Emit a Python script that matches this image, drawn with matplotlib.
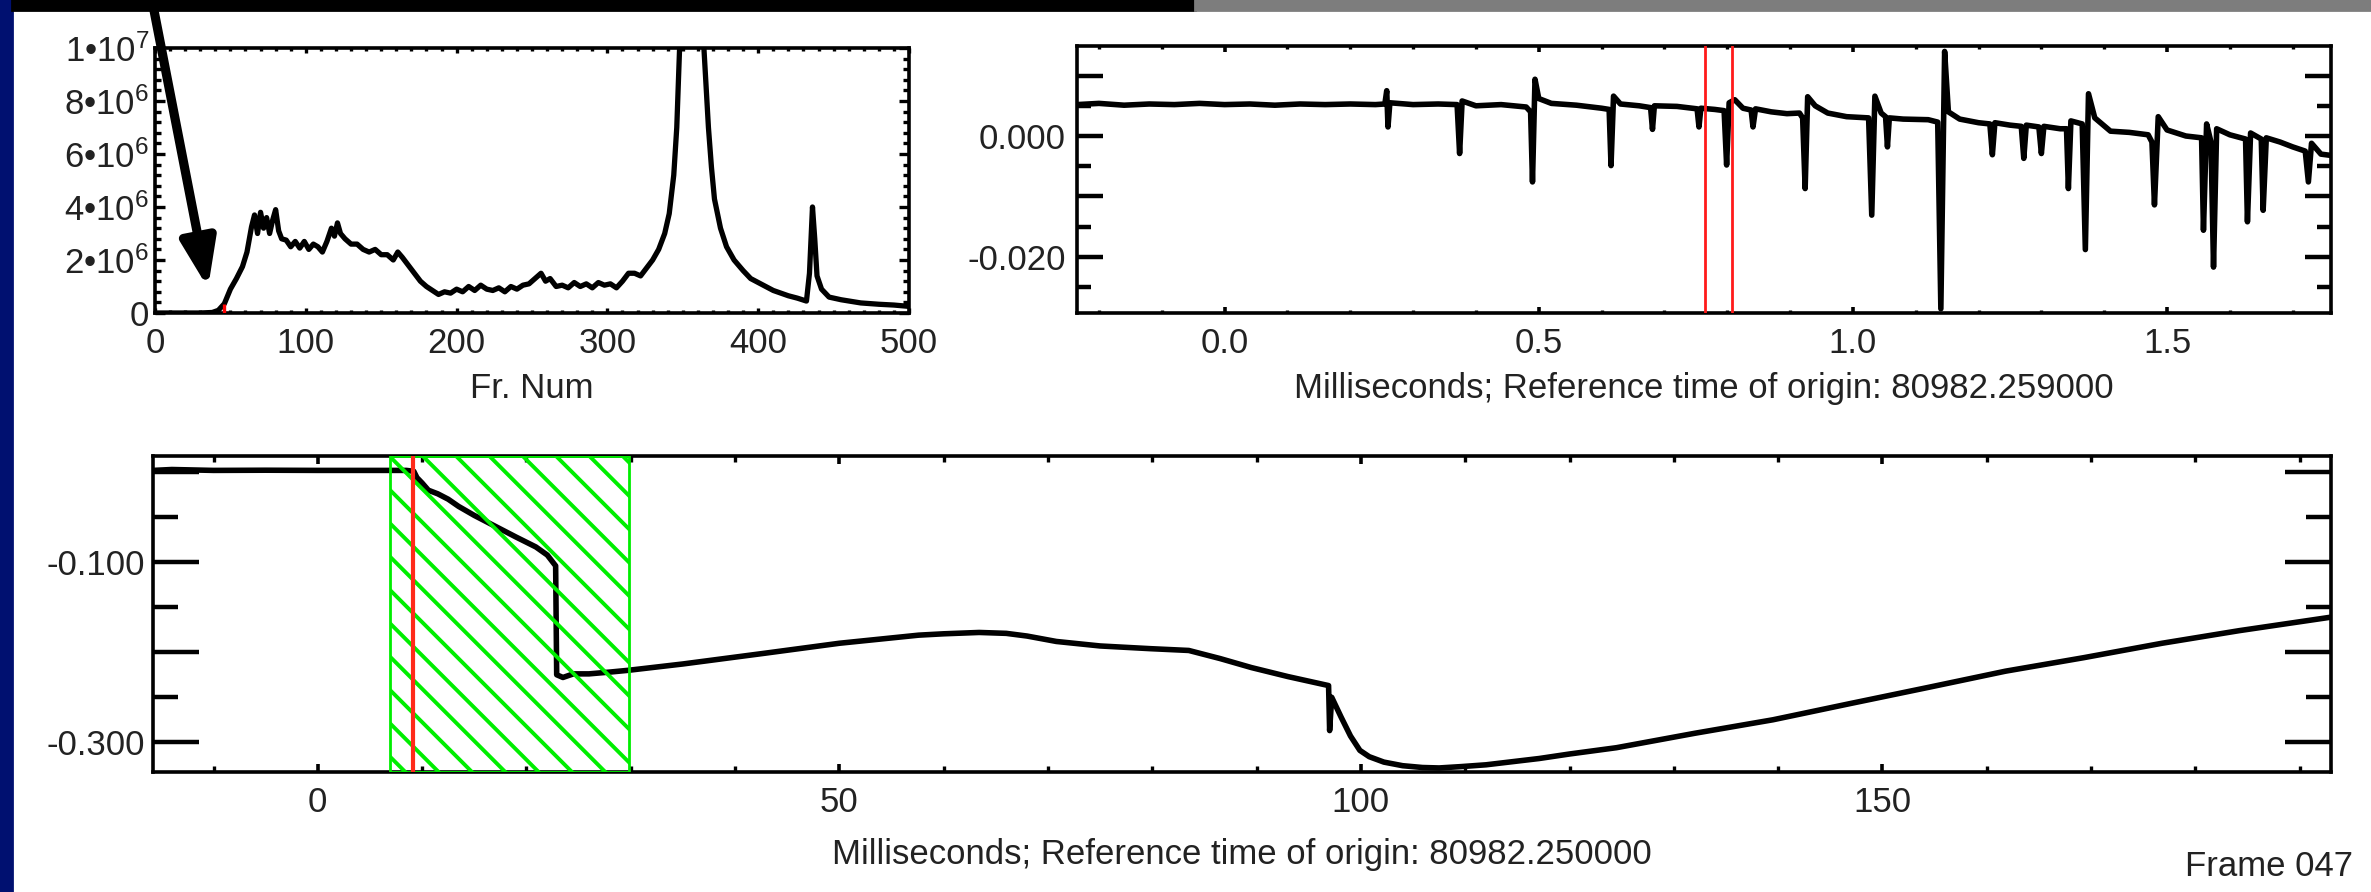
import numpy as np
import matplotlib
matplotlib.use("Agg")
import matplotlib.pyplot as plt
from matplotlib.patches import Rectangle
from matplotlib.ticker import FixedLocator, FixedFormatter, MultipleLocator

# ---- data ------------------------------------------------------------------
# top-left: counts vs frame number (counts in units of 1e6)
frame_num = [0, 10, 20, 30, 38, 42, 46, 50, 54, 58, 61, 64, 66, 68, 70, 72, 74,
             76, 78, 80, 82, 84, 87, 90, 93, 96, 99, 102, 105, 108, 111, 114,
             117, 119, 121, 123, 126, 130, 134, 138, 142, 146, 150, 154, 158,
             161, 164, 168, 172, 176, 180, 184, 188, 192, 196, 200, 204, 208,
             212, 216, 220, 224, 228, 232, 236, 240, 244, 248, 252, 256, 259,
             262, 266, 270, 274, 278, 282, 286, 290, 294, 298, 302, 306, 310,
             314, 318, 322, 326, 330, 334, 338, 341, 344, 346, 348, 352, 356,
             360, 363, 365, 367, 369, 371, 375, 379, 384, 390, 395, 400, 405,
             410, 415, 420, 426, 432, 434, 436, 437.5, 439, 442, 447, 455, 468,
             480, 490, 500]
frame_counts = [0, 0, 0, 0, 0.02, 0.1, 0.35, 0.9, 1.3, 1.75, 2.3, 3.25, 3.7,
                3.0, 3.8, 3.2, 3.6, 3.0, 3.5, 3.9, 3.1, 2.8, 2.75, 2.5, 2.7,
                2.45, 2.7, 2.4, 2.6, 2.5, 2.3, 2.7, 3.2, 2.9, 3.4, 3.0, 2.8,
                2.6, 2.6, 2.4, 2.3, 2.4, 2.2, 2.2, 2.0, 2.3, 2.1, 1.8, 1.5,
                1.2, 1.0, 0.85, 0.7, 0.8, 0.75, 0.9, 0.8, 1.0, 0.85, 1.05, 0.9,
                0.85, 0.95, 0.8, 1.0, 0.9, 1.05, 1.1, 1.3, 1.5, 1.2, 1.3, 1.0,
                1.05, 0.95, 1.15, 1.0, 1.1, 0.95, 1.15, 1.05, 1.1, 0.95, 1.2,
                1.5, 1.5, 1.4, 1.7, 2.0, 2.4, 3.0, 3.75, 5.2, 7.0, 10.2, 13,
                14, 13, 11, 9.0, 7.0, 5.5, 4.3, 3.2, 2.5, 2.0, 1.6, 1.3, 1.15,
                1.0, 0.85, 0.75, 0.65, 0.56, 0.45, 1.5, 4.0, 2.8, 1.4, 0.9,
                0.6, 0.5, 0.38, 0.33, 0.3, 0.25]
current_frame = 46
current_count = 0.35

# top-right: fast trace, ms from 80982.259000
fast_ms = [-0.235, -0.20, -0.16, -0.12, -0.08, -0.04, 0.00, 0.04, 0.08, 0.12,
           0.16, 0.20, 0.24, 0.255, 0.258, 0.260, 0.263, 0.30, 0.34, 0.370,
           0.374, 0.378, 0.40, 0.44, 0.480, 0.487, 0.490, 0.494, 0.500, 0.52,
           0.56, 0.600, 0.612, 0.615, 0.619, 0.63, 0.66, 0.678, 0.681, 0.684,
           0.72, 0.752, 0.755, 0.758, 0.78, 0.795, 0.799, 0.803, 0.812, 0.825,
           0.838, 0.841, 0.845, 0.87, 0.895, 0.915, 0.920, 0.924, 0.928, 0.94,
           0.96, 0.99, 1.025, 1.030, 1.035, 1.045, 1.052, 1.055, 1.058, 1.08,
           1.12, 1.135, 1.140, 1.146, 1.152, 1.17, 1.20, 1.218, 1.222, 1.226,
           1.25, 1.268, 1.272, 1.276, 1.296, 1.300, 1.304, 1.33, 1.340, 1.343,
           1.347, 1.365, 1.370, 1.375, 1.385, 1.41, 1.44, 1.470, 1.476, 1.480,
           1.486, 1.50, 1.53, 1.555, 1.558, 1.563, 1.570, 1.574, 1.579, 1.60,
           1.625, 1.628, 1.633, 1.650, 1.653, 1.658, 1.68, 1.70, 1.720, 1.725,
           1.730, 1.745, 1.76]
fast_val = [0.0052, 0.0054, 0.0051, 0.0053, 0.0052, 0.0054, 0.0052, 0.0053,
            0.0051, 0.0053, 0.0052, 0.0053, 0.0052, 0.0053, 0.0075, 0.0015,
            0.0055, 0.0052, 0.0053, 0.0052, -0.0029, 0.0058, 0.0050, 0.0052,
            0.0048, 0.0040, -0.0076, 0.0094, 0.0062, 0.0054, 0.0051, 0.0046,
            0.0044, -0.0049, 0.0066, 0.0053, 0.0050, 0.0047, 0.0011, 0.0050,
            0.0049, 0.0045, 0.0015, 0.0046, 0.0044, 0.0042, -0.0048, 0.0055,
            0.0060, 0.0046, 0.0043, 0.0015, 0.0045, 0.0040, 0.0037, 0.0038,
            0.0030, -0.0087, 0.0065, 0.0050, 0.0038, 0.0032, 0.0030, -0.0131,
            0.0066, 0.0038, 0.0032, -0.0018, 0.0030, 0.0028, 0.0027, 0.0023,
            -0.0286, 0.0140, 0.0040, 0.0028, 0.0022, 0.0020, -0.0031, 0.0022,
            0.0018, 0.0016, -0.0037, 0.0018, 0.0015, -0.0029, 0.0016, 0.0012,
            0.0012, -0.0087, 0.0025, 0.0020, -0.0188, 0.0070, 0.0030, 0.0008,
            0.0006, 0.0002, -0.0010, -0.0114, 0.0032, 0.0010, 0.0000, -0.0003,
            -0.0156, 0.0020, -0.0010, -0.0217, 0.0012, 0.0002, -0.0005,
            -0.0142, 0.0005, -0.0005, -0.0123, -0.0003, -0.0010, -0.0018,
            -0.0025, -0.0076, -0.0012, -0.0030, -0.0032]
fast_window = [0.764, 0.808]

# bottom: slow trace, ms from 80982.250000
slow_ms = [-15.8, -14, -12, -10, -5, 0, 5, 8.5, 9.2, 9.5, 10, 10.6, 11.5, 12.5,
           13.5, 15, 17, 19, 20.9, 22.0, 22.8, 22.9, 23.5, 24.5, 26, 28, 29.8,
           35, 42.9, 50, 57.6, 60, 63.4, 66, 68, 70.8, 75, 79.8, 83.5, 86.5,
           89.5, 93, 96.9, 97.0, 97.2, 98.1, 99.0, 99.9, 100.8, 102.2, 104,
           105.9, 107.5, 109.6, 112, 117.1, 120, 124.5, 132.0, 139.5, 146.9,
           154.4, 161.8, 169.3, 176.8, 184.2, 193.0]
slow_val = [0.002, 0.003, 0.0025, 0.002, 0.0022, 0.002, 0.002, 0.002, 0.001,
            -0.006, -0.012, -0.020, -0.024, -0.030, -0.038, -0.048, -0.060,
            -0.072, -0.083, -0.092, -0.104, -0.225, -0.228, -0.224, -0.224,
            -0.222, -0.220, -0.213, -0.201, -0.190, -0.181, -0.1795, -0.178,
            -0.179, -0.182, -0.188, -0.193, -0.196, -0.198, -0.207, -0.217,
            -0.227, -0.237, -0.287, -0.250, -0.272, -0.293, -0.309, -0.316,
            -0.322, -0.326, -0.328, -0.3285, -0.327, -0.325, -0.318, -0.313,
            -0.306, -0.290, -0.275, -0.257, -0.239, -0.221, -0.206, -0.190,
            -0.176, -0.161]
slow_window = [6.9, 29.8]
slow_marker = 9.1

y1_ticks = [0, 2e6, 4e6, 6e6, 8e6, 1e7]
y1_labels = ["0", "2•$\\mathregular{10^6}$", "4•$\\mathregular{10^6}$",
             "6•$\\mathregular{10^6}$", "8•$\\mathregular{10^6}$",
             "1•$\\mathregular{10^7}$"]
x1_ticks = [0, 100, 200, 300, 400, 500]
y2_ticks = [0.01, 0.0, -0.01, -0.02]
y2_labels = ["", "0.000", "", "-0.020"]
x2_ticks = [0.0, 0.5, 1.0, 1.5]
y3_ticks = [0.0, -0.1, -0.2, -0.3]
y3_labels = ["", "-0.100", "", "-0.300"]
x3_ticks = [0, 50, 100, 150]

# ---- figure ------------------------------------------------------------------
plt.rcParams["font.family"] = ["Liberation Sans", "DejaVu Sans"]
plt.rcParams["mathtext.fontset"] = "custom"
plt.rcParams["mathtext.rm"] = "Liberation Sans"
plt.rcParams["hatch.linewidth"] = 1.4

W, H, DPI = 2371, 892, 200
TXT = "#222222"
FS = 12.5

fig = plt.figure(figsize=(W / DPI, H / DPI), dpi=DPI, facecolor="white")


def add_px_axes(l, t, r, b):
    ax = fig.add_axes([l / W, 1 - b / H, (r - l) / W, (b - t) / H])
    for s in ax.spines.values():
        s.set_linewidth(1.3)
    ax.tick_params(which="both", direction="in", top=True, right=True,
                   colors="black", labelcolor=TXT, labelsize=FS)
    return ax


def label_at(ax, text, top_px, box):
    l, t, r, b = box
    ax.set_xlabel(text, fontsize=FS, color=TXT, va="top")
    ax.xaxis.set_label_coords(0.5, -(top_px - b) / (b - t))


# page decoration: blue left strip, top bar
fig.patches.append(Rectangle((0, 0), 12 / W, 1, transform=fig.transFigure,
                             color="#001070", zorder=0))
fig.patches.append(Rectangle((12 / W, 1 - 10 / H), (1195 - 12) / W, 10 / H,
                             transform=fig.transFigure, color="black", zorder=0))
fig.patches.append(Rectangle((1195 / W, 1 - 10 / H), (W - 1195) / W, 10 / H,
                             transform=fig.transFigure, color="#7d7d7d", zorder=0))

# --- top-left panel ---
box1 = (155, 48, 909, 313)
ax1 = add_px_axes(*box1)
ax1.plot(frame_num, np.array(frame_counts) * 1e6, color="black", lw=1.9)
ax1.vlines(current_frame, 0, current_count * 1e6, color="red", lw=1.2, zorder=3)
ax1.set_xlim(0, 500)
ax1.set_ylim(0, 1e7)
ax1.xaxis.set_major_locator(FixedLocator(x1_ticks))
ax1.xaxis.set_minor_locator(MultipleLocator(10))
ax1.yaxis.set_major_locator(FixedLocator(y1_ticks))
ax1.yaxis.set_major_formatter(FixedFormatter(y1_labels))
ax1.yaxis.set_minor_locator(MultipleLocator(4e5))
ax1.tick_params(axis="x", which="major", length=1.8, width=1.2, pad=5)
ax1.tick_params(axis="x", which="minor", length=1.0, width=1.2)
ax1.tick_params(axis="y", which="major", length=3.6, width=1.2, pad=2)
ax1.tick_params(axis="y", which="minor", length=2.0, width=1.2)
label_at(ax1, "Fr. Num", 372, box1)

# --- top-right panel ---
box2 = (1077, 46, 2331, 313)
ax2 = add_px_axes(*box2)
ax2.plot(fast_ms, fast_val, color="black", lw=2.0)
for t in fast_window:
    ax2.axvline(t, color="#ff1a1a", lw=1.0, zorder=3)
ax2.set_xlim(-0.235, 1.761)
ax2.set_ylim(-0.0293, 0.0149)
ax2.xaxis.set_major_locator(FixedLocator(x2_ticks))
ax2.xaxis.set_major_formatter(FixedFormatter(["0.0", "0.5", "1.0", "1.5"]))
ax2.xaxis.set_minor_locator(MultipleLocator(0.1))
ax2.yaxis.set_major_locator(FixedLocator(y2_ticks))
ax2.yaxis.set_major_formatter(FixedFormatter(y2_labels))
ax2.yaxis.set_minor_locator(MultipleLocator(0.005))
ax2.tick_params(axis="x", which="major", length=2.0, width=1.3, pad=5)
ax2.tick_params(axis="x", which="minor", length=1.2, width=1.2)
ax2.tick_params(axis="y", which="major", length=9.4, width=1.6, pad=4)
ax2.tick_params(axis="y", which="minor", length=5.0, width=1.6)
label_at(ax2, "Milliseconds; Reference time of origin: 80982.259000", 372, box2)

# --- bottom panel ---
box3 = (153, 456, 2331, 772)
ax3 = add_px_axes(*box3)
ax3.plot(slow_ms, slow_val, color="black", lw=2.0, zorder=2)
ax3.axvspan(slow_window[0], slow_window[1], facecolor="none",
            edgecolor="#00ee00", hatch="\\\\", lw=1.0, zorder=3)
ax3.axvline(slow_marker, color="#ff2a1a", lw=1.5, zorder=4)
ax3.set_xlim(-15.8, 193)
ax3.set_ylim(-0.333, 0.018)
ax3.xaxis.set_major_locator(FixedLocator(x3_ticks))
ax3.xaxis.set_minor_locator(MultipleLocator(10))
ax3.yaxis.set_major_locator(FixedLocator(y3_ticks))
ax3.yaxis.set_major_formatter(FixedFormatter(y3_labels))
ax3.yaxis.set_minor_locator(MultipleLocator(0.05))
ax3.tick_params(axis="x", which="major", length=3.0, width=1.3, pad=5)
ax3.tick_params(axis="x", which="minor", length=2.0, width=1.2)
ax3.tick_params(axis="y", which="major", length=16.5, width=1.6, pad=3)
ax3.tick_params(axis="y", which="minor", length=9.0, width=1.6)
label_at(ax3, "Milliseconds; Reference time of origin: 80982.250000", 838, box3)

fig.text(2353 / W, 1 - 867 / H, "Frame 047", ha="right", va="center",
         fontsize=FS, color=TXT)

# pointer arrow from the top bar down to the rise of the count curve
ax1.annotate("", xy=(208, H - 288), xycoords="figure pixels",
             xytext=(151, H + 5), textcoords="figure pixels",
             arrowprops=dict(arrowstyle="-|>,head_length=0.6,head_width=0.22",
                             lw=3.3, color="black", shrinkA=0, shrinkB=0,
                             mutation_scale=24),
             annotation_clip=False, zorder=10)

fig.savefig("out.png", dpi=DPI, facecolor="white")
